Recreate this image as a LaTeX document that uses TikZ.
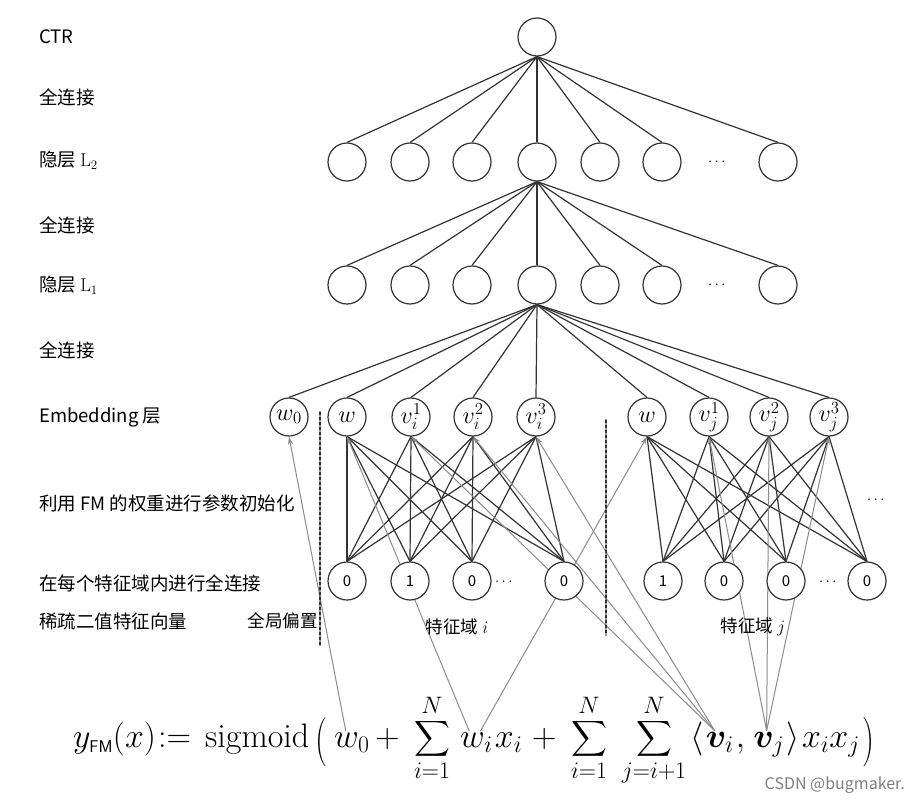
\RequirePackage{fix-cm}
\documentclass[tikz,border=0pt]{standalone}
\usepackage{fontspec}
\usepackage{amsmath,bm}
\newfontfamily\cjk{Noto Sans CJK SC}
\usetikzlibrary{backgrounds,arrows.meta}
\tikzset{
  neuron/.style={circle,draw=black!80,line width=1.2pt,fill=white,minimum size=38pt,inner sep=0pt,font=\fontsize{24}{24}\selectfont},
  bit/.style={neuron,font=\cjk\fontsize{15}{15}\selectfont},
  layertext/.style={anchor=west,inner sep=0pt,font=\cjk\fontsize{18.5}{18.5}\selectfont},
  fieldtext/.style={inner sep=0pt,font=\cjk\fontsize{17.5}{17.5}\selectfont},
  fml/.style={anchor=base west,inner sep=1pt,font=\fontsize{34}{34}\selectfont},
  link/.style={draw=black!80,line width=1.2pt},
  hint/.style={draw=black!45,line width=1pt,->},
}
\newcommand\tallparen[1]{\raisebox{-7pt}{\scalebox{1}[1.45]{#1}}}
\begin{document}
\begin{tikzpicture}[x=1pt,y=-1pt,line cap=round,line join=round,>={Stealth[length=8pt,width=5pt]}]
\useasboundingbox (0,0) rectangle (916,803);
% left column
\node[layertext] (t1) at (39,37) {CTR};
\node[layertext] (t2) at (39,97) {全连接};
\node[layertext] (t3) at (39,160) {隐层 $\mathrm{L}_2$};
\node[layertext] (t4) at (39,225) {全连接};
\node[layertext] (t5) at (39,285) {隐层 $\mathrm{L}_1$};
\node[layertext] (t6) at (39,350) {全连接};
\node[layertext] (t7) at (39,417) {Embedding 层};
\node[layertext] (t8) at (39,503) {利用 FM 的权重进行参数初始化};
\node[layertext] (t9) at (39,583) {在每个特征域内进行全连接};
\node[layertext] (t10) at (39,621) {稀疏二值特征向量};
% network
\node[neuron] (ctr) at (537,37) {};
\foreach \x [count=\i] in {347,410,472,537,600,662,778}{
  \node[neuron] (h2-\i) at (\x,162) {};
  \node[neuron] (h1-\i) at (\x,285) {};
}
\node[font=\fontsize{15}{15}\selectfont] (d2) at (718,162) {$\cdots$};
\node[font=\fontsize{15}{15}\selectfont] (d1) at (718,285) {$\cdots$};
\node[neuron] (w0) at (289,417) {$w_0$};
\foreach \x/\t [count=\i] in {347/w,411/v_i^1,473/v_i^2,536/v_i^3}
  \node[neuron] (ei\i) at (\x,417) {$\t$};
\foreach \x/\t [count=\i] in {647/w,709/v_j^1,769/v_j^2,829/v_j^3}
  \node[neuron] (ej\i) at (\x,417) {$\t$};
\foreach \x/\t [count=\i] in {347/0,410/1,472/0,564/0}
  \node[bit] (xi\i) at (\x,581) {\t};
\foreach \x/\t [count=\i] in {663/1,724/0,786/0,867/0}
  \node[bit] (xj\i) at (\x,581) {\t};
\node[font=\fontsize{15}{15}\selectfont] (di) at (505,582) {$\cdots$};
\node[font=\fontsize{15}{15}\selectfont] (dj) at (829,582) {$\cdots$};
\node[font=\fontsize{15}{15}\selectfont] (dr) at (877,500) {$\cdots$};
\draw[line width=1.6pt,dash pattern=on 3pt off 2pt,black!80] (320,412) -- (320,645) (606,420) -- (606,635);
\node[fieldtext,anchor=east] (bias) at (318,621) {全局偏置};
\node[fieldtext] (fi) at (457,627) {特征域 $i$};
\node[fieldtext] (fj) at (753,627) {特征域 $j$};
% formula
\node[fml] (fy) at (72,747) {$y_{\scriptscriptstyle\mathsf{FM}}(x)$};
\node[fml] (fdef) at (157,747) {$:=$};
\node[fml] (fsig) at (204,747) {$\mathrm{sigmoid}$};
\node[fml] (flp) at (314,747) {\tallparen{(}};
\node[fml] (fw0) at (333,747) {$w_0$};
\node[fml] (fp1) at (374,747) {$+$};
\node[fml,anchor=base] (fs1) at (432,747) {$\displaystyle\sum_{i=1}^{N}$};
\node[fml] (fwi) at (459,747) {$w_i$};
\node[fml] (fxi) at (fwi.base east) {$x_i$};
\node[fml] (fp2) at (531,747) {$+$};
\node[fml,anchor=base] (fs2) at (589,747) {$\displaystyle\sum_{i=1}^{N}$};
\node[fml,anchor=base] (fs3) at (654,747) {$\displaystyle\sum_{j=i+1}^{N}$};
\node[fml] (fla) at (689,747) {$\langle$};
\node[fml] (fvi) at (fla.base east) {$\bm{v}_i$};
\node[fml] (fcm) at (fvi.base east) {$,\,$};
\node[fml] (fvj) at (fcm.base east) {$\bm{v}_j$};
\node[fml] (fra) at (fvj.base east) {$\rangle$};
\node[fml] (fxx) at (fra.base east) {$x_ix_j$};
\node[fml] (frp) at (fxx.base east) {\tallparen{)}};
\node[anchor=east,inner sep=0pt,text=black!50,font=\cjk\fontsize{16}{16}\selectfont] (mark) at (905,785) {CSDN @bugmaker.};
% connectors
\begin{scope}[on background layer]
\fill[white] (0,0) rectangle (916,803);
\foreach \i in {1,...,7}\draw[link] (ctr.south)--(h2-\i.north);
\foreach \i in {1,...,7}\draw[link] (h2-4.south)--(h1-\i.north);
\foreach \n in {w0,ei1,ei2,ei3,ei4,ej1,ej2,ej3,ej4}\draw[link] (h1-4.south)--(\n.north);
\foreach \a in {1,...,4}\foreach \b in {1,...,4}{
  \draw[link] (xi\a.north)--(ei\b.south);
  \draw[link] (xj\a.north)--(ej\b.south);
}
\draw[hint] ([xshift=-6pt]fw0.north)--(w0.south);
\draw[hint] ([xshift=-7pt]fwi.north)--(ei1.south);
\draw[hint] ([xshift=4pt]fwi.north)--(ej1.south);
\foreach \b in {2,3,4}{
  \draw[hint] ([xshift=-5pt]fvi.north)--(ei\b.south);
  \draw[hint] ([xshift=-2pt]fvj.north)--(ej\b.south);
}
\end{scope}
\end{tikzpicture}
\end{document}
